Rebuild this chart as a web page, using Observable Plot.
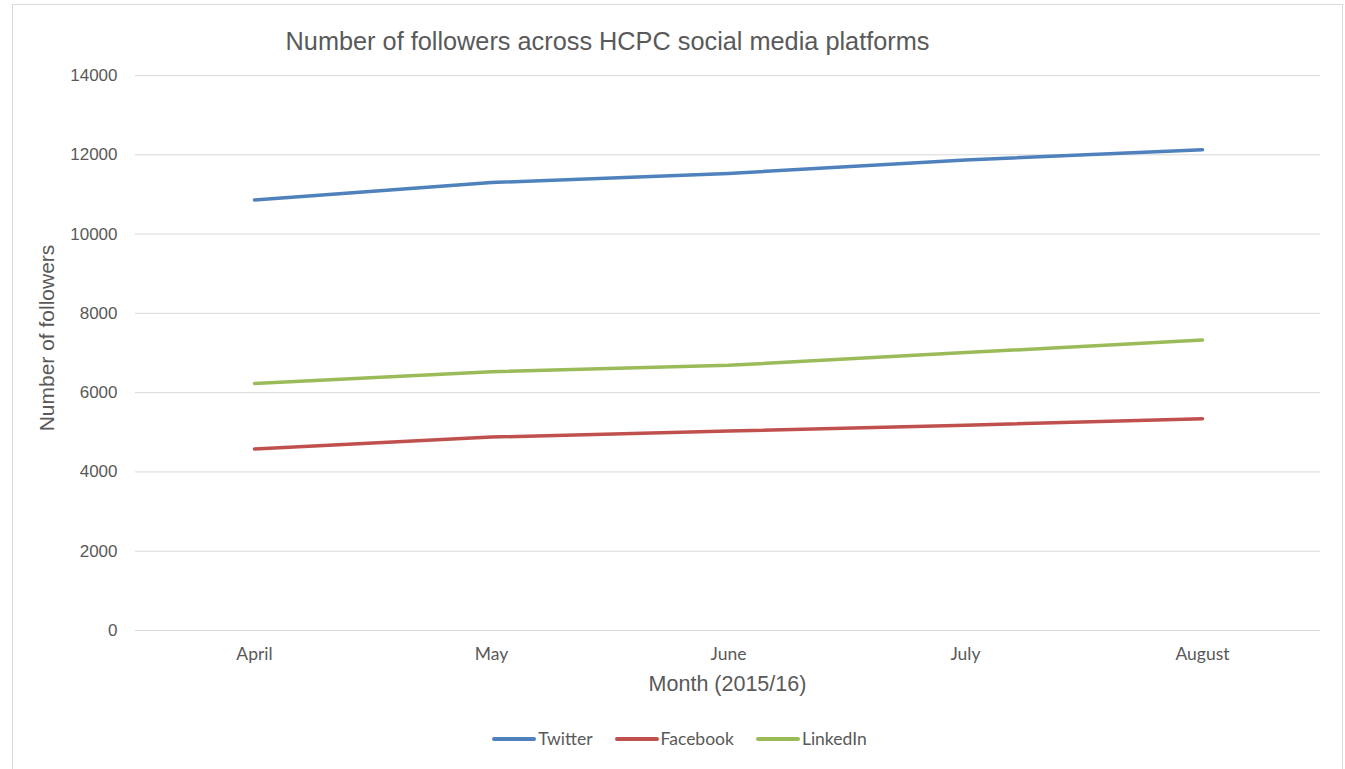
<!DOCTYPE html>
<html>
<head>
<meta charset="utf-8">
<script src="https://cdn.jsdelivr.net/npm/d3@7"></script>
<script src="https://cdn.jsdelivr.net/npm/@observablehq/plot@0.6"></script>
<style>
  html, body { margin: 0; padding: 0; background: #fff; }
  body { width: 1345px; height: 769px; position: relative; overflow: hidden; }
  #frame { position: absolute; left: 12px; top: 4px; width: 1331px; height: 800px; border: 1px solid #d9d9d9; box-sizing: border-box; }
  #title { position: absolute; left: 0; top: 27px; width: 1215px; text-align: center; font: 25.3px "Liberation Sans", Arial, sans-serif; color: #595959; }
  #chart { position: absolute; left: 0; top: 0; }
  #ylabel { position: absolute; left: 47px; top: 338px; transform: translate(-50%, -50%) rotate(-90deg); white-space: nowrap; font: 21px "Liberation Sans", Arial, sans-serif; color: #595959; }
  #xlabel { position: absolute; left: 0; top: 672px; width: 1455px; text-align: center; font: 21.5px "Liberation Sans", Arial, sans-serif; color: #595959; }
  #legend { position: absolute; left: 0; top: 728px; width: 1359px; display: flex; justify-content: center; font: 17.5px Lato, sans-serif; color: #595959; }
  .item { display: flex; align-items: center; margin: 0 11px; }
  .sw { width: 44px; height: 4px; border-radius: 2px; margin-right: 2px; }
</style>
</head>
<body>
<div id="frame"></div>
<div id="title">Number of followers across HCPC social media platforms</div>
<div id="chart"></div>
<div id="ylabel">Number of followers</div>
<div id="xlabel">Month (2015/16)</div>
<div id="legend"></div>
<script>
const months = ["April", "May", "June", "July", "August"];
const twitter = [10860, 11300, 11530, 11870, 12130];
const facebook = [4580, 4880, 5030, 5180, 5340];
const linkedin = [6230, 6530, 6690, 7010, 7330];
const platforms = ["Twitter", "Facebook", "LinkedIn"];
const colors = ["#4F81BD", "#C0504D", "#9BBB59"];
const yTicks = [0, 2000, 4000, 6000, 8000, 10000, 12000, 14000];

const seriesValues = [twitter, facebook, linkedin];
const rows = [];
platforms.forEach((p, i) => {
  months.forEach((m, j) => rows.push({ platform: p, month: m, value: seriesValues[i][j] }));
});

const chart = Plot.plot({
  width: 1345,
  height: 700,
  marginLeft: 135,
  marginRight: 25,
  marginTop: 75,
  marginBottom: 70,
  style: { background: "transparent", color: "#595959" },
  x: { type: "point", domain: months, padding: 0.5 },
  y: { domain: [0, 14000] },
  color: { domain: platforms, range: colors },
  marks: [
    Plot.gridY(yTicks, { stroke: "#d9d9d9", strokeOpacity: 1, strokeWidth: 1 }),
    Plot.axisY(yTicks, { tickSize: 0, tickPadding: 18, label: null, tickFormat: d => String(d), fontSize: 17, fontFamily: "Liberation Sans, Arial, sans-serif", fill: "#595959" }),
    Plot.axisX({ tickSize: 0, tickPadding: 17, label: null, fontSize: 17.5, fontFamily: "Lato, sans-serif", fill: "#595959" }),
    Plot.line(rows, { x: "month", y: "value", z: "platform", stroke: "platform", strokeWidth: 3.5, strokeLinecap: "round", strokeLinejoin: "round" })
  ]
});
document.getElementById("chart").appendChild(chart);

const legend = document.getElementById("legend");
platforms.forEach((p, i) => {
  const item = document.createElement("div");
  item.className = "item";
  const sw = document.createElement("div");
  sw.className = "sw";
  sw.style.background = colors[i];
  const t = document.createElement("span");
  t.textContent = p;
  item.appendChild(sw);
  item.appendChild(t);
  legend.appendChild(item);
});
</script>
</body>
</html>
